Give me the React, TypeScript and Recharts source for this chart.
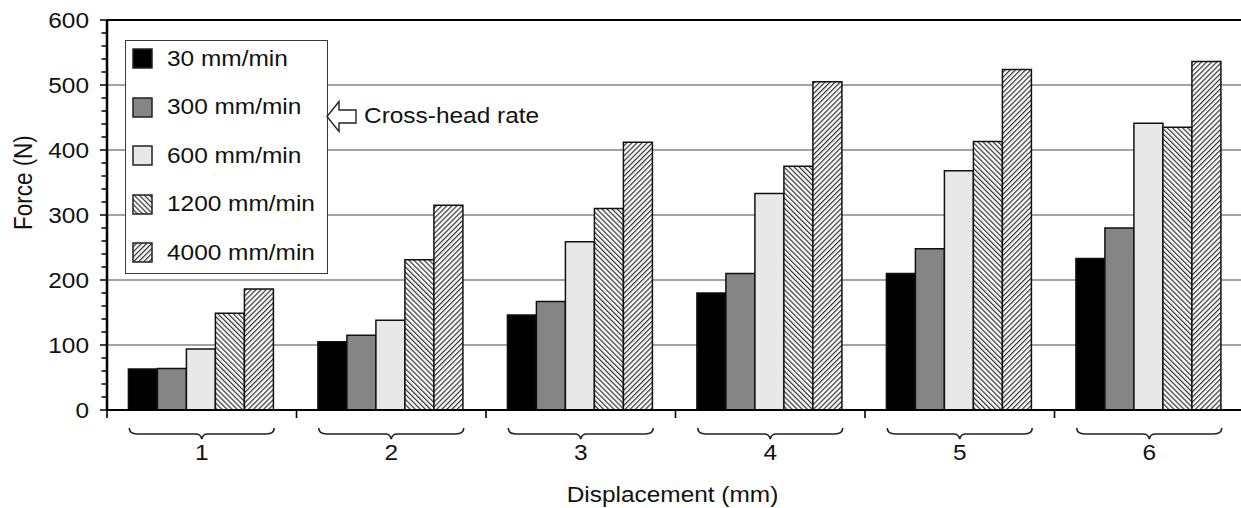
import React from 'react';
import { BarChart, Bar, XAxis, YAxis, CartesianGrid, ReferenceLine, Legend } from 'recharts';

const categories = ['1', '2', '3', '4', '5', '6'];
const rate30 = [63, 105, 146, 180, 210, 233];
const rate300 = [64, 115, 167, 210, 248, 280];
const rate600 = [94, 138, 259, 333, 368, 441];
const rate1200 = [149, 231, 310, 375, 413, 435];
const rate4000 = [186, 315, 412, 505, 524, 536];
const seriesNames = ['30 mm/min', '300 mm/min', '600 mm/min', '1200 mm/min', '4000 mm/min'];
const seriesKeys = ['r30', 'r300', 'r600', 'r1200', 'r4000'];
const yMajorTicks = [0, 100, 200, 300, 400, 500, 600];
const yMinorTicks = [0, 20, 40, 60, 80, 100, 120, 140, 160, 180, 200, 220, 240, 260, 280, 300, 320, 340, 360, 380, 400, 420, 440, 460, 480, 500, 520, 540, 560, 580, 600];
const gridValues = [100, 200, 300, 400, 500];

const data = categories.map((c, i) => ({
  cat: c,
  r30: rate30[i],
  r300: rate300[i],
  r600: rate600[i],
  r1200: rate1200[i],
  r4000: rate4000[i],
}));

const FONT = '"Liberation Sans", Arial, Helvetica, sans-serif';
const INK = '#111';
const SX = 1.11;
const FS = 22;

const stretch = (x: number, y: number) => `translate(${x},${y}) scale(${SX},1) translate(${-x},${-y})`;

const Patterns = ({ prefix }: { prefix: string }) => (
  <defs>
    <pattern id={`${prefix}back`} patternUnits="userSpaceOnUse" width={3.6} height={10} patternTransform="rotate(-45)">
      <rect x={0} y={0} width={3.6} height={10} fill="#fff" />
      <line x1={0.6} y1={0} x2={0.6} y2={10} stroke="#333" strokeWidth={1.25} />
    </pattern>
    <pattern id={`${prefix}fwd`} patternUnits="userSpaceOnUse" width={3.6} height={10} patternTransform="rotate(45)">
      <rect x={0} y={0} width={3.6} height={10} fill="#fff" />
      <line x1={0.6} y1={0} x2={0.6} y2={10} stroke="#333" strokeWidth={1.25} />
    </pattern>
  </defs>
);

const fillsFor = (prefix: string) => ['#000000', '#858585', '#e8e8e8', `url(#${prefix}back)`, `url(#${prefix}fwd)`];
const chartFills = fillsFor('pc');

const YTick = (props: any) => {
  const { x, y, payload } = props;
  const isMajor = yMajorTicks.includes(payload.value);
  const ax = x + 18;
  return (
    <g>
      <line x1={ax - (isMajor ? 7 : 5.5)} y1={y} x2={ax} y2={y} stroke="#000" strokeWidth={1.5} />
      {isMajor && (
        <text x={x} y={y} dy="0.36em" textAnchor="end" fontSize={FS} fill={INK} fontFamily={FONT} transform={stretch(x, y)}>
          {payload.value}
        </text>
      )}
    </g>
  );
};

const XTick = (props: any) => {
  const { x, y, payload, index, width } = props;
  const half = payload && payload.offset ? payload.offset : width / categories.length / 2;
  const bw = half * 0.765;
  const by = y;
  const brace = `M ${x - bw} ${by + 18} Q ${x - bw} ${by + 24} ${x - bw + 8} ${by + 24} L ${x - 6} ${by + 24} Q ${x - 1} ${by + 24} ${x} ${by + 29} Q ${x + 1} ${by + 24} ${x + 6} ${by + 24} L ${x + bw - 8} ${by + 24} Q ${x + bw} ${by + 24} ${x + bw} ${by + 18}`;
  return (
    <g>
      <line x1={x - half} y1={by} x2={x - half} y2={by + 8} stroke="#000" strokeWidth={1.6} />
      {index === categories.length - 1 && (
        <line x1={x + half} y1={by} x2={x + half} y2={by + 8} stroke="#000" strokeWidth={1.6} />
      )}
      <path d={brace} fill="none" stroke="#222" strokeWidth={1.6} />
      <text x={x} y={by + 42} dy="0.36em" textAnchor="middle" fontSize={FS} fill={INK} fontFamily={FONT} transform={stretch(x, by + 42)}>
        {payload.value}
      </text>
    </g>
  );
};

const YLabel = (props: any) => {
  const { viewBox } = props;
  const cx = 23;
  const cy = viewBox.y + viewBox.height * 0.417;
  return (
    <text x={cx} y={cy} dy="0.36em" textAnchor="middle" fontSize={22.5} fill={INK} fontFamily={FONT} transform={`translate(${cx},${cy}) scale(${SX},1) rotate(-90) translate(${-cx},${-cy})`}>
      Force (N)
    </text>
  );
};

const XLabel = (props: any) => {
  const { viewBox } = props;
  const cx = viewBox.x + viewBox.width / 2 - 3;
  const cy = viewBox.y + 84;
  return (
    <text x={cx} y={cy} dy="0.36em" textAnchor="middle" fontSize={FS} fill={INK} fontFamily={FONT} transform={stretch(cx, cy)}>
      Displacement (mm)
    </text>
  );
};

const stretchStyle: React.CSSProperties = { display: 'inline-block', transform: `scaleX(${SX})`, transformOrigin: 'left center' };

const LegendBox = () => {
  const fills = fillsFor('pl');
  return (
    <div style={{ position: 'relative', width: 203, height: 234, boxSizing: 'border-box', border: '1.5px solid #3a3a3a', background: '#fff', fontFamily: FONT, fontSize: FS, color: INK }}>
      {seriesNames.map((n, i) => (
        <div key={n} style={{ position: 'absolute', left: 6, top: 7.5 + i * 48.6, height: 20, display: 'flex', alignItems: 'center', whiteSpace: 'nowrap' }}>
          <svg width={21} height={21} style={{ display: 'block' }}>
            {i === 0 && <Patterns prefix="pl" />}
            <rect x={1} y={1} width={19} height={19} fill={fills[i]} stroke="#222" strokeWidth={1.5} />
          </svg>
          <span style={{ marginLeft: 14, lineHeight: '20px', ...stretchStyle }}>{n}</span>
        </div>
      ))}
      <svg width={36} height={38} style={{ position: 'absolute', left: 199, top: 58, overflow: 'visible' }}>
        <polygon points="2,17.5 14,2.5 14,11 31,11 31,24 14,24 14,32.5" fill="#fff" stroke="#222" strokeWidth={1.4} strokeLinejoin="miter" />
      </svg>
      <div style={{ position: 'absolute', left: 238, top: 64, whiteSpace: 'nowrap', lineHeight: '22px', ...stretchStyle }}>Cross-head rate</div>
    </div>
  );
};

export default function App() {
  return (
    <div style={{ position: 'absolute', left: 0, top: 0, width: 1241, height: 508, overflow: 'hidden', background: '#fff' }}>
      <BarChart
        width={1244}
        height={508}
        data={data}
        margin={{ top: 20, right: 0, bottom: 0, left: 0 }}
        barCategoryGap="11.3%"
        barGap={0}
      >
        <Patterns prefix="pc" />
        <CartesianGrid horizontal vertical={false} horizontalValues={gridValues} stroke="#858585" strokeWidth={1.4} />
        <ReferenceLine y={600} stroke="#000" strokeWidth={2} />
        <YAxis
          type="number"
          domain={[0, 600]}
          ticks={yMinorTicks}
          interval={0}
          width={107}
          stroke="#000"
          tickSize={6}
          tickMargin={12}
          tick={<YTick />}
          tickLine={false}
          axisLine={{ stroke: '#000', strokeWidth: 2.5 }}
          allowDataOverflow
          label={<YLabel />}
        />
        <XAxis
          dataKey="cat"
          height={98}
          interval={0}
          stroke="#000"
          tickSize={0}
          tickMargin={0}
          tickLine={false}
          tick={<XTick />}
          axisLine={{ stroke: '#000', strokeWidth: 2.2 }}
          label={<XLabel />}
        />
        <Legend
          layout="horizontal"
          verticalAlign="middle"
          align="center"
          content={<LegendBox />}
          wrapperStyle={{ position: 'absolute', left: 125, top: 40, width: 203, height: 234 }}
        />
        {seriesKeys.map((k, i) => (
          <Bar key={k} dataKey={k} name={seriesNames[i]} fill={chartFills[i]} stroke="#111" strokeWidth={1.5} isAnimationActive={false} />
        ))}
      </BarChart>
    </div>
  );
}
